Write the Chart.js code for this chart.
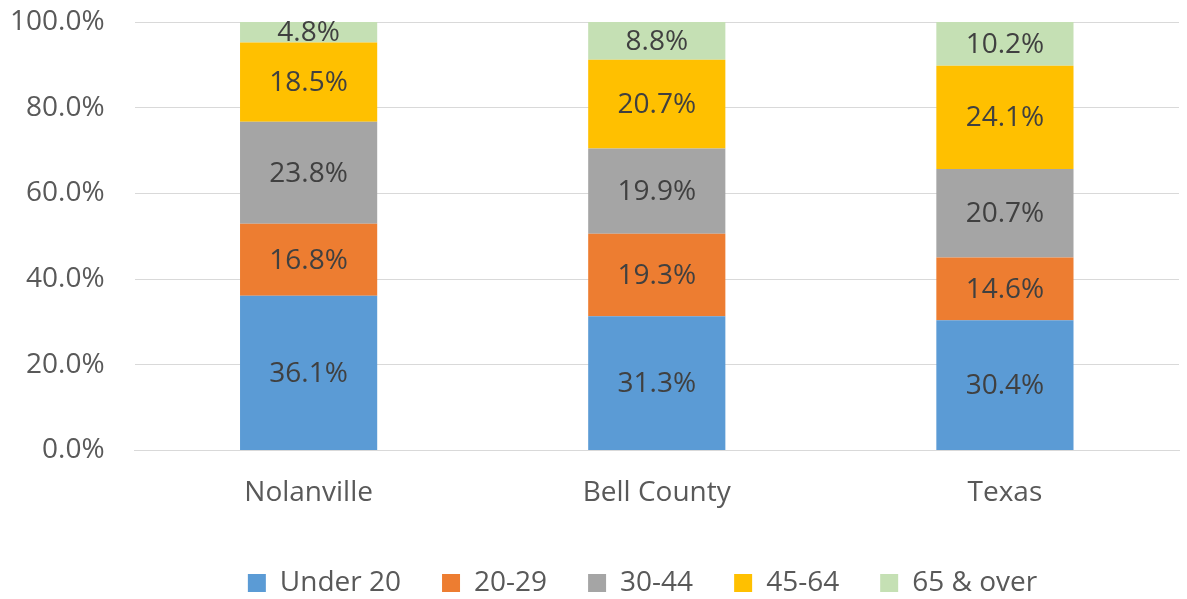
<!DOCTYPE html>
<html><head><meta charset="utf-8">
<script src="https://cdn.jsdelivr.net/npm/chart.js@4/dist/chart.umd.min.js"></script>
<style>html,body{margin:0;padding:0;background:#fff;}#wrap{width:1187px;height:599px;}</style>
</head><body><div id="wrap"><canvas id="c" width="1187" height="599"></canvas></div>
<script>
const categories = ["Nolanville", "Bell County", "Texas"];
const seriesNames = ["Under 20", "20-29", "30-44", "45-64", "65 & over"];
const under20 = [36.1, 31.3, 30.4];
const age20to29 = [16.8, 19.3, 14.6];
const age30to44 = [23.8, 19.9, 20.7];
const age45to64 = [18.5, 20.7, 24.1];
const age65over = [4.8, 8.8, 10.2];
const yTicks = [0, 20, 40, 60, 80, 100];
const colors = ["#5B9BD5", "#ED7D31", "#A5A5A5", "#FFC000", "#C5E0B4"];

const allSeries = [under20, age20to29, age30to44, age45to64, age65over];
const FONT = "'Open Sans', 'Liberation Sans', sans-serif";

const labelPlugin = {
  id: 'barLabels',
  afterLayout(chart) {
    const lg = chart.legend;
    if (lg) { lg.left += 48; lg.right += 48; }
  },
  afterDatasetsDraw(chart) {
    const ctx = chart.ctx;
    ctx.save();
    ctx.font = "28px " + FONT;
    ctx.fillStyle = "#404040";
    ctx.textAlign = "center";
    ctx.textBaseline = "middle";
    chart.data.datasets.forEach((ds, i) => {
      const meta = chart.getDatasetMeta(i);
      meta.data.forEach((bar, j) => {
        const v = ds.data[j];
        const yMid = (bar.y + bar.base) / 2;
        ctx.fillText(v.toFixed(1) + "%", bar.x, yMid + 1);
      });
    });
    ctx.restore();
  }
};

new Chart(document.getElementById('c'), {
  type: 'bar',
  data: {
    labels: categories,
    datasets: allSeries.map((d, i) => ({
      label: seriesNames[i],
      data: d,
      backgroundColor: colors[i],
      borderWidth: 0,
      categoryPercentage: 1,
      barPercentage: 0.394
    }))
  },
  options: {
    responsive: false,
    animation: false,
    layout: { padding: { top: 22, right: 8, left: 10, bottom: -8 } },
    plugins: {
      legend: {
        position: 'bottom',
        labels: {
          boxWidth: 18, boxHeight: 18,
          font: { size: 28, family: FONT },
          color: "#595959",
          padding: 41
        }
      },
      tooltip: { enabled: false }
    },
    scales: {
      x: {
        stacked: true,
        grid: { display: false },
        border: { color: "#D9D9D9" },
        ticks: { font: { size: 28, family: FONT }, color: "#595959", padding: 18 }
      },
      y: {
        stacked: true,
        min: 0, max: 100,
        afterBuildTicks(scale) { scale.ticks = yTicks.map(v => ({ value: v })); },
        grid: { color: "#D9D9D9", drawTicks: true, tickLength: 30, tickColor: "rgba(0,0,0,0)" },
        border: { display: false },
        ticks: {
          font: { size: 28, family: FONT }, color: "#595959", padding: 0,
          callback: v => v.toFixed(1) + "%"
        }
      }
    }
  },
  plugins: [labelPlugin]
});
</script></body></html>
